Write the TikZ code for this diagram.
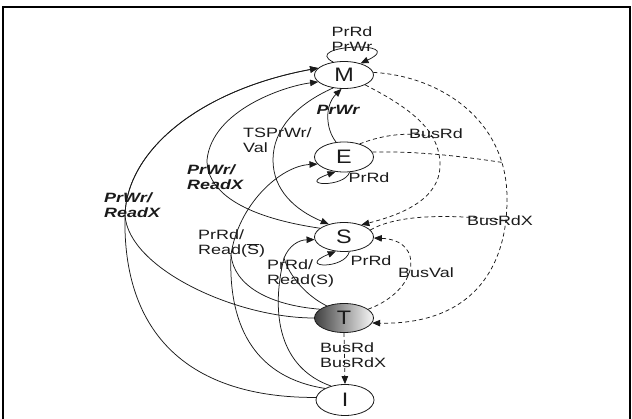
\documentclass[tikz,border=0pt]{standalone}
\usepackage{fontspec}
\setmainfont{Liberation Sans}
\newfontfamily\lblfont{Liberation Sans}[FakeStretch=1.33]
\newfontfamily\stfont{Liberation Sans}[FakeStretch=1.2]
\usetikzlibrary{shapes.geometric,arrows.meta}
\definecolor{ink}{HTML}{1A1A1A}
\begin{document}
\begin{tikzpicture}[x=1pt,y=-1pt,
  st/.style={ellipse, draw=ink, line width=0.8pt, minimum width=59pt, minimum height=29pt, inner sep=0pt, text=ink, font=\stfont\fontsize{19.5}{21}\selectfont},
  lbl/.style={font=\lblfont\fontsize{13.5}{15}\selectfont, text=ink, inner sep=0pt, align=left},
  bi/.style={font=\lblfont\bfseries\itshape\fontsize{13.5}{15}\selectfont, text=ink, inner sep=0pt, align=left},
  plain/.style={draw=ink, line width=0.75pt},
  edge/.style={plain, -{Triangle[length=8pt,width=6.5pt]}},
  dsh/.style={plain, dash pattern=on 4pt off 3pt},
  dedge/.style={dsh, -{Triangle[length=8pt,width=6.5pt]}}
]
\useasboundingbox (0,0) rectangle (632,419);
\clip (0,0) rectangle (632,419);
\draw[line width=2pt] (3.3,430) -- (3.3,6.7) -- (629.5,6.7) -- (629.5,430);

% states
\node[st, minimum height=27pt] (M) at (344,75) {M};
\node[st, minimum height=30pt] (E) at (344,157) {E};
\node[st] (S) at (344,237) {S};
\node[st, left color=black!75, right color=black!3] (T) at (344,318) {T};
\node[st, minimum height=31pt, minimum width=58pt] (I) at (345,400) {I};

% junction coordinates
\coordinate (jM) at (125,215);
\coordinate (jE) at (231,255);
\coordinate (jS) at (284,258);
\coordinate (jBR) at (432,136.5);
\coordinate (jX) at (501.9,162.4);
\coordinate (jX2) at (505.9,220.5);

% solid transitions
\draw[edge] (I.175) .. controls (190,398) and (122,335) .. (jM) .. controls (127,150) and (200,90) .. (M.165);
\draw[edge] (T.180) .. controls (235,318) and (128,268) .. (jM) .. controls (127,150) and (200,90) .. (M.165);
\draw[edge] (S.160) .. controls (250,218) and (207,195) .. (207,160) .. controls (212,110) and (285,86) .. (M.195);
\draw[edge] (M.230) .. controls (295,105) and (273,130) .. (273,160) .. controls (273,190) and (295,210) .. (S.140);
\draw[edge] (E.118) .. controls (325,128) and (325,105) .. (M.260);
\draw[edge] (I.150) .. controls (258,378) and (228,330) .. (jE) .. controls (238,205) and (280,166) .. (E.195);
\draw[plain] (T.160) .. controls (268,305) and (234,285) .. (jE);
\draw[edge] (I.135) .. controls (280,368) and (270,315) .. (jS) .. controls (289,246) and (298,240) .. (S.185);
\draw[plain] (T.145) .. controls (305,295) and (289,275) .. (jS);

% self loops
\draw[edge] (M.130) .. controls (300,45) and (410,40) .. (M.35);
\draw[edge] (E.290) .. controls (345,188) and (295,186) .. (E.240);
\draw[edge] (S.290) .. controls (345,270) and (295,268) .. (S.240);

% dashed (bus) transitions
\draw[dedge] (M.335) .. controls (410,108) and (440,130) .. (440,165) .. controls (440,200) and (400,215) .. (S.35);
\draw[dsh] (E.40) .. controls (385,134) and (410,132) .. (jBR);
\draw[dedge] (M.5) .. controls (440,76) and (508,120) .. (507,200) .. controls (507,270) and (470,325) .. (T.350);
\draw[dsh] (E.10) .. controls (415,151) and (460,156) .. (jX);
\draw[dsh] (S.15) .. controls (395,216) and (440,213) .. (jX2);
\draw[dedge] (T.20) .. controls (420,290) and (425,240) .. (S.358);
\draw[dedge] (T.south) -- (I.north);

% labels
\node[lbl, align=center] (lM) at (352,39) {PrRd\\PrWr};
\node[bi] (lEM) at (338,110) {PrWr};
\node[lbl, anchor=west] (lTS) at (243,140) {TSPrWr/\\Val};
\node[lbl] (lBR) at (436,134) {BusRd};
\node[lbl] (lEl) at (369,178) {PrRd};
\node[bi, anchor=west] (lSM) at (187,177) {PrWr/\\ReadX};
\node[bi, anchor=west] (lIM) at (104,205) {PrWr/\\ReadX};
\node[lbl] (lBX) at (500,221) {BusRdX};
\node[lbl, anchor=west] (lIE) at (198,244) {PrRd/\\Read($\overline{\mbox{S}}$)};
\node[lbl] (lSl) at (371,261) {PrRd};
\node[lbl] (lBV) at (426,273) {BusVal};
\node[lbl, anchor=west] (lIS) at (267,274) {PrRd/\\Read(S)};
\node[lbl, anchor=west] (lTI) at (320,355) {BusRd\\BusRdX};
\end{tikzpicture}
\end{document}
